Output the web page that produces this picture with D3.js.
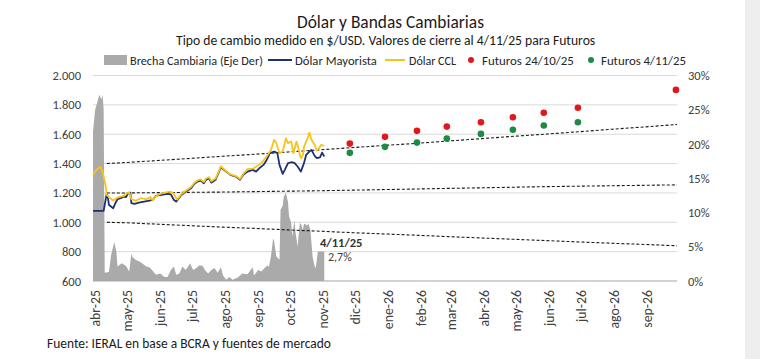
<!DOCTYPE html>
<html><head><meta charset="utf-8">
<script src="https://cdn.jsdelivr.net/npm/d3@7"></script>
<style>
html,body{margin:0;padding:0;background:#fff;}
svg{display:block;font-family:Carlito,Lato,"Open Sans",sans-serif;}
</style></head>
<body><svg id="c" width="760" height="359"></svg>
<script>
// ---------- DATA ----------
const leftTicks = [600, 800, 1000, 1200, 1400, 1600, 1800, 2000];
const leftTickLabels = ["600","800","1.000","1.200","1.400","1.600","1.800","2.000"];
const rightTicks = [0, 0.05, 0.10, 0.15, 0.20, 0.25, 0.30];
const rightTickLabels = ["0%","5%","10%","15%","20%","25%","30%"];
const monthTickDates = ["2025-04-01","2025-05-01","2025-06-01","2025-07-01","2025-08-01","2025-09-01","2025-10-01","2025-11-01","2025-12-01","2026-01-01","2026-02-01","2026-03-01","2026-04-01","2026-05-01","2026-06-01","2026-07-01","2026-08-01","2026-09-01"];
const monthTickLabels = ["abr-25","may-25","jun-25","jul-25","ago-25","sep-25","oct-25","nov-25","dic-25","ene-26","feb-26","mar-26","abr-26","may-26","jun-26","jul-26","ago-26","sep-26"];

const mayorista = [
["2025-04-01",1078],["2025-04-11",1078],["2025-04-14",1200],["2025-04-15",1164],["2025-04-16",1118],
["2025-04-20",1096],["2025-04-22",1130],["2025-04-24",1157],["2025-04-27",1164],["2025-04-30",1175],
["2025-05-02",1171],["2025-05-04",1198],["2025-05-06",1202],["2025-05-07",1130],["2025-05-10",1125],
["2025-05-14",1134],["2025-05-19",1141],["2025-05-24",1148],["2025-05-27",1152],["2025-05-30",1180],
["2025-06-03",1186],["2025-06-10",1193],["2025-06-13",1190],["2025-06-16",1152],["2025-06-18",1141],
["2025-06-23",1186],["2025-06-27",1209],["2025-07-02",1232],["2025-07-05",1261],["2025-07-08",1277],
["2025-07-11",1284],["2025-07-14",1266],["2025-07-16",1289],["2025-07-19",1300],["2025-07-21",1270],
["2025-07-25",1289],["2025-07-27",1323],["2025-07-30",1375],["2025-08-01",1362],["2025-08-04",1345],
["2025-08-08",1323],["2025-08-13",1311],["2025-08-17",1289],["2025-08-20",1323],["2025-08-24",1345],
["2025-08-29",1357],["2025-09-01",1345],["2025-09-04",1368],["2025-09-08",1391],["2025-09-11",1425],
["2025-09-14",1471],["2025-09-18",1482],["2025-09-21",1471],["2025-09-23",1391],["2025-09-26",1330],
["2025-09-28",1357],["2025-10-01",1403],["2025-10-04",1409],["2025-10-07",1405],["2025-10-10",1380],
["2025-10-13",1345],["2025-10-16",1403],["2025-10-18",1459],["2025-10-21",1482],["2025-10-23",1493],
["2025-10-26",1452],["2025-10-28",1437],["2025-10-31",1443],["2025-11-02",1475],["2025-11-04",1448]
];

const ccl = [
["2025-04-01",1323],["2025-04-03",1345],["2025-04-05",1362],["2025-04-08",1378],["2025-04-10",1345],
["2025-04-11",1311],["2025-04-13",1243],["2025-04-14",1186],["2025-04-16",1171],["2025-04-20",1148],
["2025-04-23",1164],["2025-04-25",1171],["2025-04-30",1180],["2025-05-03",1198],["2025-05-05",1204],
["2025-05-07",1157],["2025-05-11",1148],["2025-05-16",1164],["2025-05-21",1157],["2025-05-25",1171],
["2025-05-27",1148],["2025-05-29",1171],["2025-06-01",1186],["2025-06-05",1198],["2025-06-12",1209],
["2025-06-15",1200],["2025-06-19",1155],["2025-06-23",1192],["2025-06-27",1215],["2025-07-02",1240],
["2025-07-05",1268],["2025-07-08",1285],["2025-07-11",1292],["2025-07-14",1275],["2025-07-16",1298],
["2025-07-19",1308],["2025-07-21",1280],["2025-07-25",1298],["2025-07-27",1330],["2025-07-30",1383],
["2025-08-01",1368],["2025-08-04",1348],["2025-08-08",1326],["2025-08-13",1315],["2025-08-17",1295],
["2025-08-20",1330],["2025-08-24",1362],["2025-08-30",1368],["2025-09-06",1403],["2025-09-11",1448],
["2025-09-15",1493],["2025-09-18",1562],["2025-09-20",1539],["2025-09-23",1471],["2025-09-26",1482],
["2025-09-29",1573],["2025-10-01",1539],["2025-10-04",1550],["2025-10-06",1471],["2025-10-09",1550],
["2025-10-10",1527],["2025-10-13",1437],["2025-10-15",1459],["2025-10-16",1516],["2025-10-20",1584],
["2025-10-21",1611],["2025-10-23",1562],["2025-10-26",1527],["2025-10-28",1488],["2025-10-30",1505],
["2025-11-01",1527],["2025-11-04",1520]
];

const brecha = [
["2025-04-01",0.218],["2025-04-03",0.250],["2025-04-07",0.272],["2025-04-09",0.265],["2025-04-10",0.272],
["2025-04-11",0.250],["2025-04-12",0.012],["2025-04-16",0.013],["2025-04-18",0.038],["2025-04-21",0.057],
["2025-04-23",0.042],["2025-04-24",0.021],["2025-04-28",0.026],["2025-05-02",0.022],["2025-05-05",0.014],
["2025-05-07",0.040],["2025-05-08",0.035],["2025-05-11",0.031],["2025-05-15",0.028],["2025-05-18",0.025],
["2025-05-21",0.021],["2025-05-24",0.020],["2025-05-27",0.015],["2025-05-30",0.009],["2025-06-03",0.011],
["2025-06-07",0.006],["2025-06-10",0.006],["2025-06-13",0.016],["2025-06-16",0.021],["2025-06-18",0.009],
["2025-06-21",0.011],["2025-06-24",0.021],["2025-06-27",0.016],["2025-06-30",0.023],["2025-07-01",0.026],
["2025-07-04",0.016],["2025-07-07",0.019],["2025-07-10",0.023],["2025-07-13",0.022],["2025-07-15",0.016],
["2025-07-18",0.011],["2025-07-21",0.016],["2025-07-24",0.019],["2025-07-27",0.012],["2025-07-30",0.020],
["2025-08-01",0.008],["2025-08-04",0.002],["2025-08-07",0.006],["2025-08-10",0.002],["2025-08-15",0.005],
["2025-08-19",0.011],["2025-08-24",0.010],["2025-08-27",0.016],["2025-08-29",0.020],["2025-08-30",0.008],
["2025-09-03",0.016],["2025-09-06",0.014],["2025-09-09",0.019],["2025-09-12",0.023],["2025-09-13",0.020],
["2025-09-15",0.036],["2025-09-17",0.062],["2025-09-18",0.058],["2025-09-20",0.036],["2025-09-23",0.031],
["2025-09-24",0.104],["2025-09-26",0.110],["2025-09-27",0.123],["2025-09-29",0.129],["2025-10-01",0.115],
["2025-10-02",0.094],["2025-10-04",0.085],["2025-10-05",0.065],["2025-10-07",0.089],["2025-10-08",0.072],
["2025-10-10",0.050],["2025-10-12",0.084],["2025-10-13",0.084],["2025-10-15",0.075],["2025-10-16",0.084],
["2025-10-19",0.081],["2025-10-20",0.084],["2025-10-22",0.075],["2025-10-24",0.036],["2025-10-26",0.021],
["2025-10-27",0.019],["2025-10-29",0.043],["2025-11-03",0.043],["2025-11-04",0.043]
];

const futurosDates = ["2025-11-28","2025-12-31","2026-01-30","2026-02-27","2026-03-31","2026-04-30","2026-05-29","2026-06-30","2026-09-30"];
const futuros2410 = [1536,1582,1623,1652,1682,1716,1746,1780,1902];
const futuros0411 = [1473,1514,1543,1570,1602,1630,1659,1682];

const bandDates = ["2025-04-14","2025-05-01","2025-06-01","2025-07-01","2025-08-01","2025-09-01","2025-10-01","2025-11-01","2025-12-01","2026-01-01","2026-02-01","2026-03-01","2026-04-01","2026-05-01","2026-06-01","2026-07-01","2026-08-01","2026-09-01","2026-10-01"];
const bandUpper  = [1400,1407,1421,1435,1450,1464,1479,1494,1509,1524,1539,1554,1570,1586,1601,1617,1634,1650,1666];
const bandMiddle = [1199,1200,1202,1204,1206,1209,1212,1215,1219,1223,1227,1231,1235,1239,1243,1246,1249,1252,1255];
const bandLower  = [1000,997,987,977,967,958,948,939,929,920,911,902,893,884,875,866,857,849,840];

// ---------- CHART ----------
const P = d3.timeParse("%Y-%m-%d");
const svg = d3.select("#c");
const font = "Carlito,Lato,'Open Sans',sans-serif";

// scale a text's font-size so that its rendered width matches the target width
function fit(sel, target){
  const n = sel.node();
  const fs = parseFloat(sel.attr("font-size")) || 13;
  const w = n.getComputedTextLength();
  if (w > 0) sel.attr("font-size", (fs*target/w).toFixed(2));
  return sel;
}

svg.append("rect").attr("x",745).attr("y",0).attr("width",15).attr("height",359).attr("fill","#eeeeee");

const x = d3.scaleTime().domain([P("2025-04-01"), P("2026-10-01")]).range([93, 677]);
const yL = d3.scaleLinear().domain([600, 2000]).range([281, 75.5]);
const yR = d3.scaleLinear().domain([0, 0.30]).range([281, 75.5]);

// gridlines
svg.append("g").selectAll("line").data(leftTicks.slice(1)).join("line")
  .attr("x1",93).attr("x2",677).attr("y1",d=>yL(d)).attr("y2",d=>yL(d))
  .attr("stroke","#d9d9d9").attr("stroke-width",1);

// left axis
const axL = d3.axisLeft(yL).tickValues(leftTicks).tickFormat((d,i)=>leftTickLabels[i]).tickSize(0).tickPadding(0);
const gL = svg.append("g").attr("transform","translate(81,0)").call(axL);
gL.select(".domain").remove();
gL.selectAll("text").attr("font-size",12.5).attr("fill","#404040").attr("font-family",font);

// right axis
const axR = d3.axisRight(yR).tickValues(rightTicks).tickFormat((d,i)=>rightTickLabels[i]).tickSize(0).tickPadding(0);
const gR = svg.append("g").attr("transform","translate(688,0)").call(axR);
gR.select(".domain").remove();
gR.selectAll("text").attr("font-size",12.5).attr("fill","#404040").attr("font-family",font);

// area brecha
const area = d3.area().x(d=>x(P(d[0]))).y0(yR(0)).y1(d=>yR(d[1]));
const bArea = brecha.concat([[brecha[brecha.length-1][0],0]]);
svg.append("path").datum(bArea).attr("d",area).attr("fill","#aaaaaa");

// bottom axis line
svg.append("line").attr("x1",93).attr("x2",677).attr("y1",yL(600)).attr("y2",yL(600))
  .attr("stroke","#a6a6a6").attr("stroke-width",1.2);

// bands
const bandLine = d3.line().x((d,i)=>x(P(bandDates[i]))).y(d=>yL(d));
[bandUpper, bandMiddle, bandLower].forEach(b=>{
  svg.append("path").datum(b).attr("d",bandLine).attr("fill","none")
    .attr("stroke","#1a1a1a").attr("stroke-width",1.1).attr("stroke-dasharray","3,2");
});

// lines
const line = d3.line().x(d=>x(P(d[0]))).y(d=>yL(d[1]));
svg.append("path").datum(mayorista).attr("d",line).attr("fill","none")
  .attr("stroke","#1f3170").attr("stroke-width",1.8).attr("stroke-linejoin","round");
svg.append("path").datum(ccl).attr("d",line).attr("fill","none")
  .attr("stroke","#f7c519").attr("stroke-width",1.8).attr("stroke-linejoin","round");

// futuros
svg.append("g").selectAll("circle").data(futuros2410).join("circle")
  .attr("cx",(d,i)=>x(P(futurosDates[i]))).attr("cy",d=>yL(d)).attr("r",3.3).attr("fill","#e2161b");
svg.append("g").selectAll("circle").data(futuros0411).join("circle")
  .attr("cx",(d,i)=>x(P(futurosDates[i]))).attr("cy",d=>yL(d)).attr("r",3.3).attr("fill","#1e8a46");

// x axis labels
const gx = svg.append("g");
monthTickDates.forEach((d,i)=>{
  const xx = x(P(d));
  gx.append("text").attr("transform",`translate(${xx+7},290) rotate(-90)`)
    .attr("text-anchor","end").attr("font-size",13.8).attr("fill","#404040").attr("font-family",font)
    .text(monthTickLabels[i]);
});

// annotation
svg.append("text").attr("x",320).attr("y",247).attr("font-size",12.5).attr("font-weight","bold")
  .attr("fill","#333").attr("font-family",font).text("4/11/25");
svg.append("text").attr("x",328).attr("y",261).attr("font-size",12)
  .attr("fill","#404040").attr("font-family",font).text("2,7%");

// titles
fit(svg.append("text").attr("x",297).attr("y",28).attr("font-size",17)
  .attr("fill","#1a1a1a").attr("font-family",font).text("Dólar y Bandas Cambiarias"), 187);
fit(svg.append("text").attr("x",176).attr("y",45).attr("font-size",13.6)
  .attr("fill","#1a1a1a").attr("font-family",font).text("Tipo de cambio medido en $/USD. Valores de cierre al 4/11/25 para Futuros"), 419);

// legend
const ly = 60;
const lg = svg.append("g").attr("font-family",font).attr("fill","#262626");
const lt = (xp, txt, w) => fit(lg.append("text").attr("x",xp).attr("y",ly+4.5).attr("font-size",13).text(txt), w);
lg.append("rect").attr("x",104).attr("y",ly-5).attr("width",23).attr("height",10).attr("fill","#aaaaaa");
lt(130, "Brecha Cambiaria (Eje Der)", 133);
lg.append("line").attr("x1",268).attr("x2",292).attr("y1",ly).attr("y2",ly).attr("stroke","#1f3170").attr("stroke-width",2);
lt(295, "Dólar Mayorista", 82);
lg.append("line").attr("x1",385).attr("x2",405).attr("y1",ly).attr("y2",ly).attr("stroke","#f7c519").attr("stroke-width",2);
lt(409, "Dólar CCL", 47);
lg.append("circle").attr("cx",471).attr("cy",ly).attr("r",3).attr("fill","#e2161b");
lt(482, "Futuros 24/10/25", 92);
lg.append("circle").attr("cx",591).attr("cy",ly).attr("r",3).attr("fill","#1e8a46");
lt(601, "Futuros 4/11/25", 85);

// source
fit(svg.append("text").attr("x",47).attr("y",348).attr("font-size",13.4).attr("fill","#1a1a1a")
  .attr("font-family",font).text("Fuente: IERAL en base a BCRA y fuentes de mercado"), 284);
</script></body></html>
